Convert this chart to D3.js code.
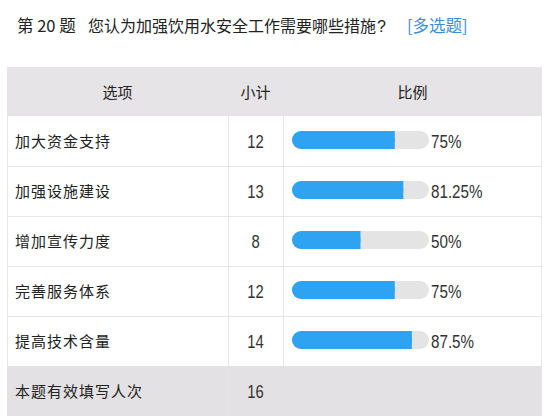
<!DOCTYPE html>
<html>
<head>
<meta charset="utf-8">
<script src="https://cdn.jsdelivr.net/npm/d3@7"></script>
<style>
  body { margin: 0; background: #fff; }
  svg { display: block; }
  .cjk { font-family: "Noto Sans CJK SC", sans-serif; }
  .num { font-family: "Liberation Sans", Arial, sans-serif; }
</style>
</head>
<body>
<svg id="chart"></svg>
<script>
// data
const questionNo = '第 20 题';
const questionText = '您认为加强饮用水安全工作需要哪些措施';
const questionMark = '?';
const questionType = '[多选题]';
const headers = ['选项', '小计', '比例'];
const options = ['加大资金支持', '加强设施建设', '增加宣传力度', '完善服务体系', '提高技术含量'];
const counts = [12, 13, 8, 12, 14];
const percents = [75, 81.25, 50, 75, 87.5];
const footerLabel = '本题有效填写人次';
const footerCount = 16;

const W = 560, H = 420;
const svg = d3.select('#chart').attr('width', W).attr('height', H);

// table geometry
const cols = [7, 228, 283, 542];
const headTop = 67, rowTop = 116, rowH = 50;

const y = d3.scaleBand()
  .domain(options)
  .range([rowTop, rowTop + rowH * options.length]);
const x = d3.scaleLinear().domain([0, 100]).range([292, 429]);
const footTop = rowTop + rowH * options.length;

// title
svg.append('text').attr('class', 'cjk')
  .attr('x', 17).attr('y', 32)
  .style('font-size', '16.5px').attr('fill', '#222')
  .text(questionNo);
const q = svg.append('text').attr('class', 'cjk')
  .attr('x', 88).attr('y', 32)
  .style('font-size', '16px').attr('fill', '#222');
q.append('tspan').text(questionText);
q.append('tspan').attr('class', 'num').attr('dx', 1).text(questionMark);
svg.append('text').attr('class', 'cjk')
  .attr('x', 407).attr('y', 32)
  .style('font-size', '16.5px').attr('fill', '#3b8fd8')
  .text(questionType);

// header + footer backgrounds
svg.append('rect')
  .attr('x', cols[0]).attr('y', headTop)
  .attr('width', cols[3] - cols[0]).attr('height', rowTop - headTop)
  .attr('fill', '#e6e4e6');
svg.append('rect')
  .attr('x', cols[0]).attr('y', footTop)
  .attr('width', cols[3] - cols[0]).attr('height', 50)
  .attr('fill', '#e3e1e3');

// header text
svg.selectAll('.head')
  .data(headers)
  .enter().append('text')
  .attr('class', 'cjk head')
  .attr('x', (d, i) => (cols[i] + cols[i + 1]) / 2)
  .attr('y', 98)
  .attr('text-anchor', 'middle')
  .style('font-size', '15px').attr('fill', '#222')
  .text(d => d);

// grid lines
const grid = svg.append('g').attr('stroke', '#e6e6e6').attr('stroke-width', 1);
grid.selectAll('.hline')
  .data(options.slice(1))
  .enter().append('line')
  .attr('x1', cols[0]).attr('x2', cols[3])
  .attr('y1', d => y(d) + 0.5).attr('y2', d => y(d) + 0.5);
grid.append('line')
  .attr('x1', cols[1] + 0.5).attr('x2', cols[1] + 0.5)
  .attr('y1', rowTop).attr('y2', footTop + 50);
grid.append('line')
  .attr('x1', cols[2] + 0.5).attr('x2', cols[2] + 0.5)
  .attr('y1', rowTop).attr('y2', footTop);
grid.append('line')
  .attr('x1', cols[0] + 0.5).attr('x2', cols[0] + 0.5)
  .attr('y1', rowTop).attr('y2', footTop);
grid.append('line')
  .attr('x1', cols[3] - 0.5).attr('x2', cols[3] - 0.5)
  .attr('y1', headTop).attr('y2', footTop + 50);

// rows
const rows = svg.selectAll('.row')
  .data(options.map((o, i) => ({ option: o, count: counts[i], pct: percents[i] })))
  .enter().append('g')
  .attr('class', 'row')
  .attr('transform', d => `translate(0,${y(d.option)})`);

rows.append('text').attr('class', 'cjk')
  .attr('x', 15).attr('y', 31)
  .style('font-size', '15px').style('letter-spacing', '1px')
  .attr('fill', '#222')
  .text(d => d.option);

rows.append('text').attr('class', 'num')
  .attr('transform', `translate(${(cols[1] + cols[2]) / 2},32) scale(0.78,1)`)
  .attr('text-anchor', 'middle')
  .style('font-size', '19px').attr('fill', '#333')
  .text(d => d.count);

const barH = 18, barY = (rowH - barH) / 2 - 1, r = barH / 2;
rows.append('rect')
  .attr('x', x(0)).attr('y', barY)
  .attr('width', x(100) - x(0)).attr('height', barH)
  .attr('rx', r).attr('fill', '#e4e4e4');
rows.append('rect')
  .attr('x', x(0)).attr('y', barY)
  .attr('width', d => x(d.pct) - x(0)).attr('height', barH)
  .attr('rx', r).attr('fill', '#2ea3f2');
rows.append('rect')
  .attr('x', d => x(d.pct) - r).attr('y', barY)
  .attr('width', r).attr('height', barH)
  .attr('fill', '#2ea3f2');

rows.append('text').attr('class', 'num')
  .attr('transform', `translate(${x(100) + 2},32) scale(0.8,1)`)
  .style('font-size', '19px').attr('fill', '#333')
  .text(d => `${d.pct}%`);

// footer
svg.append('text').attr('class', 'cjk')
  .attr('x', 15).attr('y', footTop + 31)
  .style('font-size', '15px').style('letter-spacing', '1px')
  .attr('fill', '#222')
  .text(footerLabel);
svg.append('text').attr('class', 'num')
  .attr('transform', `translate(${(cols[1] + cols[2]) / 2},${footTop + 32}) scale(0.78,1)`)
  .attr('text-anchor', 'middle')
  .style('font-size', '19px').attr('fill', '#333')
  .text(footerCount);
</script>
</body>
</html>
